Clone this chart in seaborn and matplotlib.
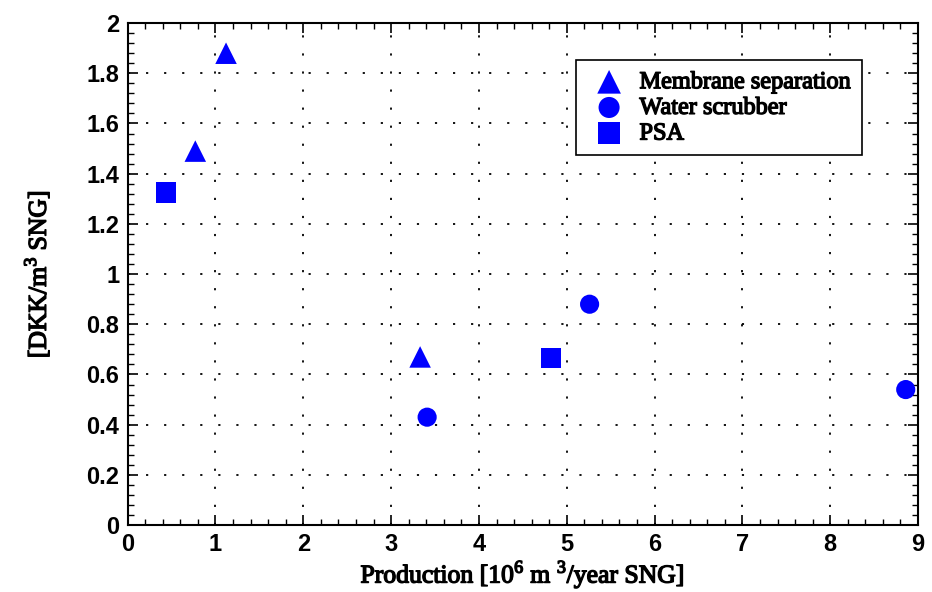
import pandas as pd
import numpy as np
import matplotlib
matplotlib.use("Agg")
import matplotlib.pyplot as plt
import matplotlib.patheffects as pe
import seaborn as sns
from matplotlib.ticker import MultipleLocator

# Data
methods = ["Membrane separation", "Water scrubber", "PSA"]
membrane_x = [0.77, 1.12, 3.33]
membrane_y = [1.49, 1.88, 0.67]
water_x = [3.41, 5.26, 8.86]
water_y = [0.43, 0.88, 0.54]
psa_x = [0.44, 4.82]
psa_y = [1.325, 0.665]

df = pd.DataFrame({
    "x": membrane_x + water_x + psa_x,
    "y": membrane_y + water_y + psa_y,
    "method": [methods[0]] * len(membrane_x) + [methods[1]] * len(water_x) + [methods[2]] * len(psa_x),
})

sns.set_style("ticks")
plt.rcParams["mathtext.fontset"] = "custom"
plt.rcParams["mathtext.rm"] = "Liberation Serif"
plt.rcParams["mathtext.bf"] = "Liberation Serif"

# serif bold is faked with a thin stroke
bold = [pe.withStroke(linewidth=1.0, foreground="black")]

fig = plt.figure(figsize=(9.32, 5.92), dpi=100)
ax = fig.add_axes([0.137, 0.113, 0.848, 0.848])

markers = {methods[0]: "^", methods[1]: "o", methods[2]: "s"}
sizes = {methods[0]: 240, methods[1]: 190, methods[2]: 210}
for m in methods:
    sns.scatterplot(data=df[df["method"] == m], x="x", y="y", marker=markers[m],
                    s=sizes[m], color="#0000FF", edgecolor="none", label=m, ax=ax, zorder=3)

ax.set_xlim(0, 9)
ax.set_ylim(0, 2)
ax.xaxis.set_major_locator(MultipleLocator(1))
ax.xaxis.set_minor_locator(MultipleLocator(0.2))
ax.yaxis.set_major_locator(MultipleLocator(0.2))
ax.yaxis.set_minor_locator(MultipleLocator(0.04))
ax.yaxis.set_major_formatter(matplotlib.ticker.FuncFormatter(lambda v, p: f"{v:g}"))
ax.tick_params(which="both", direction="in", top=True, right=True, color="black",
               labelcolor="black")
ax.tick_params(which="major", length=7, width=1.2, pad=6)
ax.tick_params(which="minor", length=4, width=1)
for lbl in ax.get_xticklabels() + ax.get_yticklabels():
    lbl.set_family("Liberation Sans")
    lbl.set_fontweight("bold")
    lbl.set_fontsize(17)
for sp in ax.spines.values():
    sp.set_linewidth(1.5)
    sp.set_color("black")

ax.grid(True, which="major", color="black", linestyle=(0, (1.2, 8.8)), linewidth=1.3)

xl = ax.set_xlabel(r"Production [10$^{6}$ m $^{3}$/year SNG]", family="Liberation Serif",
                   fontsize=18.5, labelpad=0.5, color="black")
yl = ax.set_ylabel(r"[DKK/m$^{3}$ SNG]", family="Liberation Serif",
                   fontsize=18.5, labelpad=24, color="black")
xl.set_path_effects(bold)
yl.set_path_effects(bold)

leg = ax.legend(loc="upper right", bbox_to_anchor=(0.929, 0.926), fancybox=False,
                frameon=True, edgecolor="black", framealpha=1,
                prop={"family": "Liberation Serif", "size": 17.5},
                handlelength=1.8, handletextpad=0.35, borderpad=0.45, labelspacing=0.15,
                markerscale=1.1, borderaxespad=0)
leg.get_frame().set_linewidth(1.2)
for t in leg.get_texts():
    t.set_path_effects(bold)
    t.set_color("black")

fig.savefig("out.png", dpi=100)
